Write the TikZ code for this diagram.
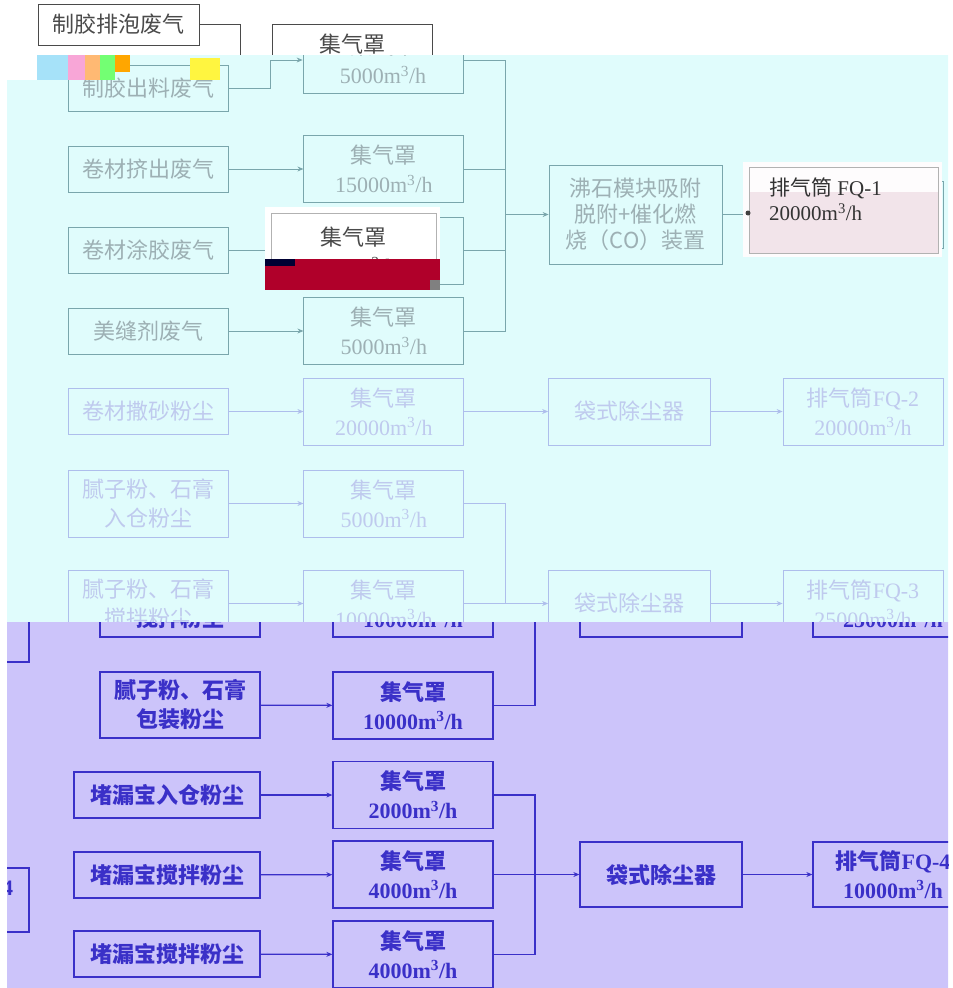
\documentclass[tikz,border=0pt]{standalone}
\usepackage{fontspec}
\setmainfont{Liberation Serif}
\newfontfamily\cjk{Noto Sans CJK SC}
\usetikzlibrary{positioning,arrows.meta}

\definecolor{cyanbg}{HTML}{E0FCFC}
\definecolor{lavbg}{HTML}{CCC4FA}
\definecolor{tealline}{HTML}{7AA6AC}
\definecolor{tealtext}{HTML}{9DB0B4}
\definecolor{paleline}{HTML}{AEBEEC}
\definecolor{paletext}{HTML}{BFCAEE}
\definecolor{navy}{HTML}{3A30C8}
\definecolor{inkgray}{HTML}{4A4A4A}
\definecolor{glitchred}{HTML}{B0002A}
\definecolor{stackpink}{HTML}{F2E4EA}

\newcommand{\hoodtext}[1]{{\cjk 集气罩}\\#1m\textsuperscript{3}/h}

\begin{document}
\begin{tikzpicture}[x=1pt, y=-1pt, >={Stealth[length=6pt,width=5pt]},
  box/.style={draw, inner sep=0pt, align=center, font=\fontsize{22}{29}\selectfont},
  srcbox/.style={box, minimum width=160pt, minimum height=46pt},
  srcwide/.style={box, minimum width=186pt, minimum height=46pt},
  srctall/.style={box, minimum width=160pt, minimum height=67pt},
  hoodbox/.style={box, minimum width=160pt, minimum height=67pt},
  bagbox/.style={box, minimum width=162pt, minimum height=67pt},
  stackbox/.style={box, minimum width=160pt, minimum height=67pt},
  treatbox/.style={box, minimum width=173pt, minimum height=99pt, font=\fontsize{22}{26}\selectfont}]

\useasboundingbox (0,0) rectangle (953,988);

% top strip, white
\begin{scope}
\clip (0,0) rectangle (953,55);
\begin{scope}[inkgray, text=inkgray, line width=1pt]
\node[box, minimum width=161pt, minimum height=41pt] (srcA) at (118.5,24.5) {\cjk 制胶排泡废气};
\node[hoodbox] (hoodA) at (352.5,58) {\hoodtext{5000}};
\coordinate (joinA) at (240,60);
\draw (srcA.east) -| (joinA);
\end{scope}
\end{scope}

% middle part, cyan
\begin{scope}
\clip (37,55) -- (948,55) -- (948,622) -- (7,622) -- (7,80) -- (37,80) -- cycle;
\fill[cyanbg] (0,0) rectangle (953,988);
\begin{scope}[tealline, text=tealtext, line width=0.8pt]
\node[srcbox] (srcB1) at (148,88) {\cjk 制胶出料废气};
\node[srcbox] (srcB2) at (148,169) {\cjk 卷材挤出废气};
\node[srcbox] (srcB3) at (148,250.5) {\cjk 卷材涂胶废气};
\node[srcbox] (srcB4) at (148,331) {\cjk 美缝剂废气};
\node[hoodbox] (hoodB1) at (383,60) {\hoodtext{5000}};
\node[hoodbox, right=75pt of srcB2] (hoodB2) {\hoodtext{15000}};
\node[hoodbox, right=75pt of srcB3] (hoodB3) {\hoodtext{5000}};
\node[hoodbox, right=75pt of srcB4] (hoodB4) {\hoodtext{5000}};
\node[treatbox] (treatB) at (635.5,214.5) {\cjk 沸石模块吸附\\\cjk 脱附+催化燃\\\cjk 烧（CO）装置};
\node[stackbox] (stackB1) at (863,214.5) {{\cjk 排气筒}FQ-1\\20000m\textsuperscript{3}/h};

\coordinate (joinB) at (270,60);
\coordinate (busBtop) at (505,60);
\coordinate (busBbot) at (505,331);
\draw (srcB1.east) -| (joinB);
\draw[->] (joinB) -- (hoodB1.west);
\draw[->] (srcB2) -- (hoodB2);
\draw[->] (srcB3) -- (hoodB3);
\draw[->] (srcB4) -- (hoodB4);
\draw (hoodB1.east) -- (busBtop) -- (busBbot) -- (hoodB4.east);
\draw (hoodB2.east) -- (hoodB2.east -| busBtop);
\draw (hoodB3.east) -- (hoodB3.east -| busBtop);
\draw[->] (treatB.west -| busBtop) -- (treatB.west);
\draw[->] (treatB) -- (stackB1);
\end{scope}

\begin{scope}[paleline, text=paletext, line width=0.8pt]
\node[srcbox] (srcB5) at (148,411.5) {\cjk 卷材撒砂粉尘};
\node[srctall] (srcB6) at (148,503.5) {\cjk 腻子粉、石膏\\\cjk 入仓粉尘};
\node[srctall] (srcB7) at (148,603.5) {\cjk 腻子粉、石膏\\\cjk 搅拌粉尘};
\node[hoodbox, right=75pt of srcB5] (hoodB5) {\hoodtext{20000}};
\node[hoodbox, right=75pt of srcB6] (hoodB6) {\hoodtext{5000}};
\node[hoodbox, right=75pt of srcB7] (hoodB7) {\hoodtext{10000}};
\node[bagbox] (bagB1) at (629.5,411.5) {\cjk 袋式除尘器};
\node[bagbox] (bagB2) at (629.5,603.5) {\cjk 袋式除尘器};
\node[stackbox] (stackB2) at (863,411.5) {{\cjk 排气筒}FQ-2\\20000m\textsuperscript{3}/h};
\node[stackbox] (stackB3) at (863,603.5) {{\cjk 排气筒}FQ-3\\25000m\textsuperscript{3}/h};

\coordinate (busBlow) at (505,503.5);
\draw[->] (srcB5) -- (hoodB5);
\draw[->] (srcB6) -- (hoodB6);
\draw[->] (srcB7) -- (hoodB7);
\draw[->] (hoodB5) -- (bagB1);
\draw[->] (bagB1) -- (stackB2);
\draw (hoodB6.east) -- (busBlow) -- (busBlow |- hoodB7.east) -- (hoodB7.east);
\draw[->] (busBlow |- bagB2.west) -- (bagB2.west);
\draw[->] (bagB2) -- (stackB3);
\end{scope}
\end{scope}

% lower part, lavender
\begin{scope}
\clip (7,622) rectangle (948,988);
\fill[lavbg] (0,0) rectangle (953,988);
\begin{scope}[navy, text=navy, line width=1.3pt, box/.append style={font=\fontsize{22}{29}\selectfont\bfseries}]
\draw (-40,560) rectangle (29,662);
\draw (-40,868) rectangle (29,932);
\node[anchor=east, font=\fontsize{22}{29}\selectfont\bfseries] (fragC) at (17,890) {FQ-4};

\node[srctall] (srcC1) at (180,603.5) {\cjk 腻子粉、石膏\\\cjk 搅拌粉尘};
\node[srctall, minimum height=66pt] (srcC2) at (180,705) {\cjk 腻子粉、石膏\\\cjk 包装粉尘};
\node[srcwide] (srcC3) at (167,795) {\cjk 堵漏宝入仓粉尘};
\node[srcwide] (srcC4) at (167,875) {\cjk 堵漏宝搅拌粉尘};
\node[srcwide] (srcC5) at (167,954) {\cjk 堵漏宝搅拌粉尘};
\node[hoodbox] (hoodC1) at (413,603.5) {\hoodtext{10000}};
\node[hoodbox] (hoodC2) at (413,705.5) {\hoodtext{10000}};
\node[hoodbox] (hoodC3) at (413,795) {\hoodtext{2000}};
\node[hoodbox] (hoodC4) at (413,874.5) {\hoodtext{4000}};
\node[hoodbox] (hoodC5) at (413,954.5) {\hoodtext{4000}};
\node[bagbox] (bagC1) at (661,603.5) {\cjk 袋式除尘器};
\node[bagbox, minimum height=65pt] (bagC2) at (661,874.5) {\cjk 袋式除尘器};
\node[stackbox] (stackC3) at (893,603.5) {{\cjk 排气筒}FQ-3\\25000m\textsuperscript{3}/h};
\node[stackbox, minimum height=65pt] (stackC4) at (893,874.5) {{\cjk 排气筒}FQ-4\\10000m\textsuperscript{3}/h};

\coordinate (busC1) at (535,603.5);
\coordinate (busC2) at (535,795);
\draw[->] (srcC1) -- (hoodC1);
\draw[->] (srcC2) -- (hoodC2);
\draw[->] (srcC3) -- (hoodC3);
\draw[->] (srcC4) -- (hoodC4);
\draw[->] (srcC5) -- (hoodC5);
\draw (hoodC1.east) -- (busC1) -- (busC1 |- hoodC2.east) -- (hoodC2.east);
\draw[->] (busC1) -- (bagC1.west);
\draw[->] (bagC1) -- (stackC3);
\draw (hoodC3.east) -- (busC2) -- (busC2 |- hoodC5.east) -- (hoodC5.east);
\draw (hoodC4.east) -- (hoodC4.east -| busC2);
\draw[->] (bagC2.west -| busC2) -- (bagC2.west);
\draw[->] (bagC2) -- (stackC4);
\end{scope}
\end{scope}

% pasted-over patches
\fill[cyan!35] (37,55) rectangle (68,80);
\fill[magenta!35] (68,55) rectangle (85,80);
\fill[orange!55] (85,55) rectangle (100,80);
\fill[green!55] (100,55) rectangle (115,80);
\fill[orange!70!yellow] (115,55) rectangle (130,72);
\fill[yellow!75] (190,58) rectangle (220,80);

\fill[white] (265,207) rectangle (440,259);
\node[box, minimum width=165pt, minimum height=76pt, draw=gray!60, text=inkgray] (ovHood) at (353.5,251) {\hoodtext{5000}};
\fill[glitchred] (265,259) rectangle (440,290);
\fill[black!80!blue] (265,259) rectangle (295,266);
\fill[gray] (430,280) rectangle (440,290);

\fill[white!90!stackpink] (743,162) rectangle (942,257);
\fill[stackpink] (749,192) rectangle (938,253);
\node[draw=gray!60, minimum width=189pt, minimum height=86pt, inner sep=0pt] (ovStack) at (843.5,210) {};
\node[anchor=north west, align=left, inner sep=0pt, text=black!80, font=\fontsize{21}{25}\selectfont] (ovText) at (769,178) {{\cjk 排气筒} FQ-1\\20000m\textsuperscript{3}/h};
\fill[black!75] (748,213) circle (2.5pt);
\end{tikzpicture}
\end{document}
